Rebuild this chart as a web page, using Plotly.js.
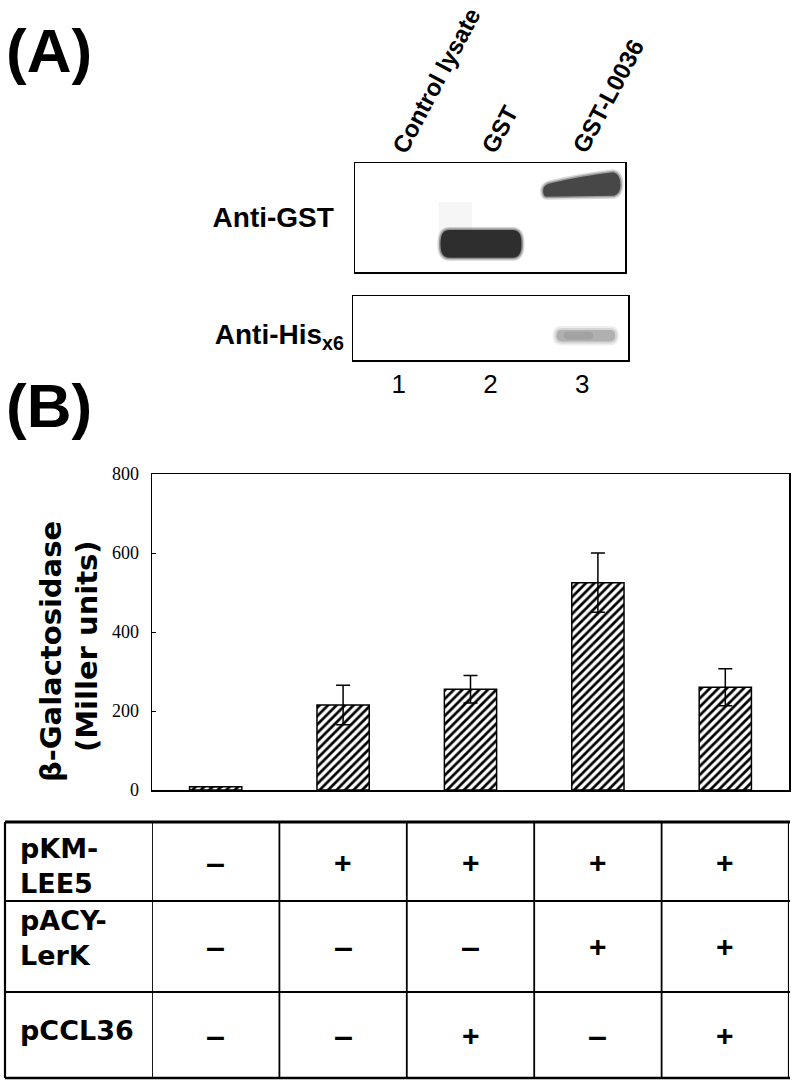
<!DOCTYPE html>
<html>
<head>
<meta charset="utf-8">
<script src="https://cdn.plot.ly/plotly-3.0.1.min.js"></script>
<style>html,body{margin:0;padding:0;background:#fff;}#chart{width:792px;height:1084px;}</style>
</head>
<body>
<div id="chart"></div>
<script>
// ---------- Data ----------
const conditions = ['none', 'LEE5', 'LEE5+L0036', 'LEE5+LerK', 'LEE5+LerK+L0036'];
const betaGal = [8, 215, 255, 525, 260];
const betaGalErr = [0, 50, 35, 75, 47];
const yTickVals = [0, 200, 400, 600, 800];

const rowLabels = ['pKM-<br>LEE5', 'pACY-<br>LerK', 'pCCL36'];
const pKMLEE5 = ['−', '+', '+', '+', '+'];
const pACYLerK = ['−', '−', '−', '+', '+'];
const pCCL36 = ['−', '−', '+', '−', '+'];

const lanes = [1, 2, 3];
const laneLabels = ['Control lysate', 'GST', 'GST-L0036'];
const laneNumbers = ['1', '2', '3'];
const blotLabels = ['<b>Anti-GST</b>', '<b>Anti-His<sub>x6</sub></b>'];

// ---------- Helpers ----------
const W = 792, H = 1084;
const px = v => v / W;
const py = v => 1 - v / H;
const SANS = 'Liberation Sans, Arial, sans-serif';

function rr(x0, x1, y0, y1, rx, ry) {
  return `M ${x0+rx},${y0} L ${x1-rx},${y0} Q ${x1},${y0} ${x1},${y0+ry} L ${x1},${y1-ry} Q ${x1},${y1} ${x1-rx},${y1} L ${x0+rx},${y1} Q ${x0},${y1} ${x0},${y1-ry} L ${x0},${y0+ry} Q ${x0},${y0} ${x0+rx},${y0} Z`;
}
function softBand(path, xr, yr, color, glow) {
  return [
    {type:'path', xref:xr, yref:yr, path:path, fillcolor:color, opacity:0.2, line:{color:color, width:glow*2}},
    {type:'path', xref:xr, yref:yr, path:path, fillcolor:color, opacity:0.4, line:{color:color, width:glow}},
    {type:'path', xref:xr, yref:yr, path:path, fillcolor:color, opacity:1, line:{width:0}}
  ];
}

// ---------- Traces ----------
const traces = [
  {
    type: 'bar', x: conditions, y: betaGal, xaxis: 'x', yaxis: 'y',
    width: 0.41,
    marker: {
      color: '#ffffff',
      line: {color: '#000', width: 1.5},
      pattern: {shape: '/', size: 6, solidity: 0.45, fgcolor: '#000', bgcolor: '#fff', fillmode: 'replace'}
    },
    error_y: {type: 'data', array: betaGalErr, visible: true, color: '#000', thickness: 1.5, width: 7},
    hoverinfo: 'skip'
  },
  {type: 'scatter', mode: 'markers', x: lanes, y: [0.5,0.5,0.5], xaxis: 'x2', yaxis: 'y2', marker: {opacity: 0}, hoverinfo: 'skip'},
  {type: 'scatter', mode: 'markers', x: lanes, y: [0.5,0.5,0.5], xaxis: 'x3', yaxis: 'y3', marker: {opacity: 0}, hoverinfo: 'skip'}
];

// ---------- Shapes ----------
const shapes = [];
// Anti-GST blot: faint smear above GST band, GST band (lane 2), GST-L0036 band (lane 3)
shapes.push({type:'rect', xref:'x2', yref:'y2', x0:1.43, x1:1.8, y0:0.36, y1:0.64, fillcolor:'#f4f4f4', opacity:0.8, line:{width:0}});
shapes.push(...softBand(rr(1.45, 2.35, 0.13, 0.385, 0.1, 0.12), 'x2', 'y2', '#2e2e2e', 3));
shapes.push(...softBand('M 2.63,0.69 L 3.38,0.70 Q 3.45,0.72 3.45,0.80 Q 3.45,0.90 3.37,0.915 Q 3.0,0.88 2.65,0.81 Q 2.59,0.79 2.59,0.745 Q 2.59,0.69 2.63,0.69 Z', 'x2', 'y2', '#474747', 3));
// Anti-His blot: band in lane 3
shapes.push(...softBand(rr(2.72, 3.36, 0.29, 0.47, 0.06, 0.08), 'x3', 'y3', '#b0b0b0', 4));
shapes.push({type:'path', xref:'x3', yref:'y3', path: rr(2.8, 3.12, 0.32, 0.44, 0.05, 0.05), fillcolor:'#999999', opacity:0.6, line:{width:0}});

// Table grid
const tTop = 822, tRows = [901, 992], tBot = 1078, tLeft = 5;
shapes.push({type:'line', xref:'paper', yref:'paper', x0:px(tLeft), x1:px(790), y0:py(tTop), y1:py(tTop), line:{color:'#000', width:3}});
tRows.forEach(r => shapes.push({type:'line', xref:'paper', yref:'paper', x0:px(tLeft), x1:px(790), y0:py(r), y1:py(r), line:{color:'#000', width:2.2}}));
shapes.push({type:'line', xref:'paper', yref:'paper', x0:px(tLeft), x1:px(790), y0:py(tBot), y1:py(tBot), line:{color:'#000', width:2.5}});
shapes.push({type:'line', xref:'paper', yref:'paper', x0:px(tLeft), x1:px(tLeft), y0:py(tTop), y1:py(tBot), line:{color:'#000', width:2.2}});
for (let k = 0; k <= conditions.length; k++) {
  shapes.push({type:'line', xref:'x', yref:'paper', x0:k-0.5, x1:k-0.5, y0:py(tTop), y1:py(tBot), line:{color:'#000', width: k === conditions.length ? 2.2 : 1.8}});
}

// ---------- Annotations ----------
const annotations = [];
const C = {showarrow:false, xanchor:'center', yanchor:'middle'};
annotations.push(Object.assign({}, C, {xref:'paper', yref:'paper', x:px(49), y:py(50), text:'<b>(A)</b>', font:{family:SANS, size:62, color:'#000'}}));
annotations.push(Object.assign({}, C, {xref:'paper', yref:'paper', x:px(49), y:py(406), text:'<b>(B)</b>', font:{family:SANS, size:62, color:'#000'}}));

// Lane labels (rotated)
lanes.forEach((l, i) => annotations.push({
  xref:'x2', yref:'paper', x:l, y:py(160), xanchor:'left', yanchor:'bottom', xshift:-16,
  text:'<b>' + laneLabels[i] + '</b>', textangle:-62, showarrow:false,
  font:{family:SANS, size:24, color:'#000'}
}));

// y-axis title (two lines)
annotations.push(Object.assign({}, C, {xref:'paper', yref:'paper', x:px(51), y:py(652), text:'<b>β-Galactosidase</b>', textangle:-90, font:{family:'DejaVu Sans, sans-serif', size:29, color:'#000'}}));
annotations.push(Object.assign({}, C, {xref:'paper', yref:'paper', x:px(87), y:py(646), text:'<b>(Miller units)</b>', textangle:-90, font:{family:'DejaVu Sans, sans-serif', size:29, color:'#000'}}));

// Table row labels and +/- signs
const rowCenters = [862, 946, 1035];
const labelCenters = [866, 938, 1030];
const signRows = [pKMLEE5, pACYLerK, pCCL36];
rowLabels.forEach((t, r) => annotations.push({
  xref:'paper', yref:'paper', x:px(18), y:py(labelCenters[r]), xanchor:'left', yanchor:'middle', align:'left',
  text:'<b>' + t + '</b>', showarrow:false, font:{family:'DejaVu Sans, sans-serif', size:27, color:'#000'}
}));
signRows.forEach((row, r) => row.forEach((s, i) => annotations.push(Object.assign({}, C, {
  xref:'x', yref:'paper', x:conditions[i], y:py(rowCenters[r]),
  text:'<b>' + (s === '+' ? '+' : '–') + '</b>',
  font:{family:SANS, size: s === '+' ? 30 : 34, color:'#000'}
}))));

// ---------- Layout ----------
const boxAxis = {showline:true, mirror:true, linecolor:'#000', linewidth:1.5, showgrid:false, zeroline:false};
const layout = {
  width: W, height: H,
  margin: {l:0, r:0, t:0, b:0},
  paper_bgcolor:'#fff', plot_bgcolor:'#fff',
  showlegend:false,
  xaxis: Object.assign({}, boxAxis, {domain:[px(152), px(789)], type:'category', range:[-0.5, 4.5], showticklabels:false, ticks:'', anchor:'y'}),
  yaxis: Object.assign({}, boxAxis, {domain:[py(790), py(474)], range:[0, 800], tickvals:yTickVals, ticktext:yTickVals.map(String),
    ticks:'inside', ticklen:4, tickcolor:'#000', ticklabelstandoff:8,
    tickfont:{family:'Liberation Serif, serif', size:18, color:'#000'}, anchor:'x'}),
  xaxis2: Object.assign({}, boxAxis, {domain:[px(355), px(625)], range:[0.5, 3.5], showticklabels:false, ticks:'', anchor:'y2'}),
  yaxis2: Object.assign({}, boxAxis, {domain:[py(272), py(163)], range:[0, 1], tickvals:[0.5], ticktext:[blotLabels[0]], ticks:'',
    ticklabelstandoff:14, tickfont:{family:SANS, size:28, color:'#000'}, anchor:'x2'}),
  xaxis3: Object.assign({}, boxAxis, {domain:[px(353), px(628)], range:[0.5, 3.5], tickvals:lanes, ticktext:laneNumbers, ticks:'',
    ticklabelstandoff:0, tickfont:{family:SANS, size:26, color:'#000'}, anchor:'y3'}),
  yaxis3: Object.assign({}, boxAxis, {domain:[py(360), py(296)], range:[0, 1], tickvals:[0.4], ticktext:[blotLabels[1]], ticks:'',
    ticklabelstandoff:2, tickfont:{family:SANS, size:28, color:'#000'}, anchor:'x3'}),
  shapes: shapes,
  annotations: annotations
};

Plotly.newPlot('chart', traces, layout, {displayModeBar:false, staticPlot:true});
</script>
</body>
</html>
